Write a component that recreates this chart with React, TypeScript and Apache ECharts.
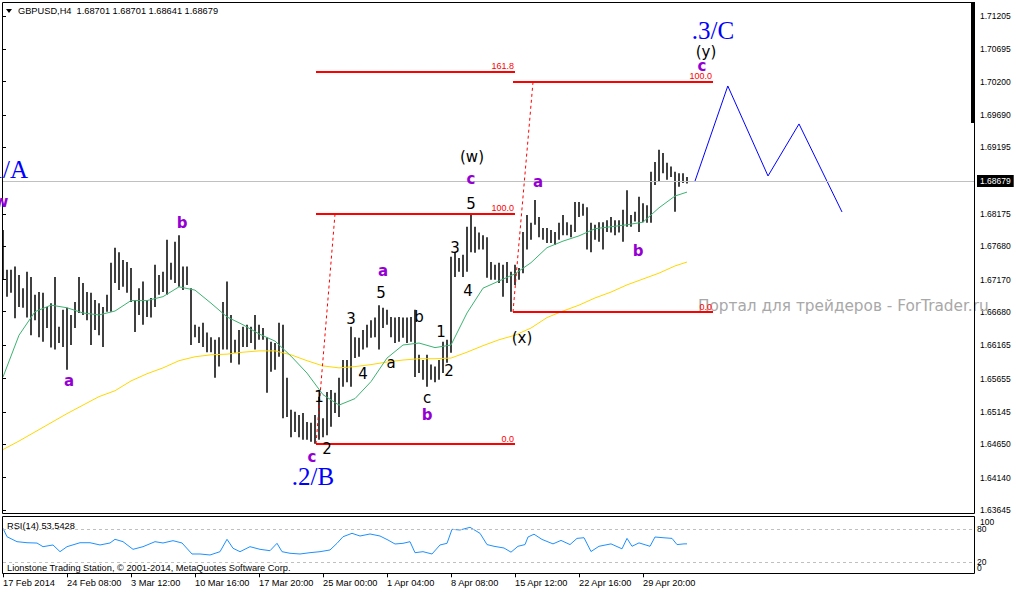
import React, { useEffect, useRef } from "react";
import * as echarts from "echarts";

// GBPUSD H4 price bars, each slot holds two consecutive H4 bars (high / low)
const barHigh = [
  1.6793, 1.6732, 1.6732, 1.6737, 1.6724, 1.6704, 1.6729, 1.6721, 1.6694, 1.6698,
  1.6697, 1.6675, 1.6681, 1.6721, 1.6645, 1.6671, 1.6674, 1.6663, 1.6683, 1.6721,
  1.6712, 1.6698, 1.6697, 1.6686, 1.6681, 1.6675, 1.6694, 1.6743, 1.6766, 1.6759,
  1.6747, 1.6744, 1.6735, 1.6686, 1.6704, 1.6714, 1.6686, 1.6689, 1.6740, 1.6724,
  1.6729, 1.6778, 1.6743, 1.6775, 1.6785, 1.6737, 1.6737, 1.6704, 1.6648, 1.6645,
  1.6651, 1.6636, 1.6629, 1.6625, 1.6629, 1.6683, 1.6714, 1.6663, 1.6625, 1.6640,
  1.6645, 1.6648, 1.6645, 1.6663, 1.6648, 1.6643, 1.6629, 1.6622, 1.6620, 1.6651,
  1.6648, 1.6567, 1.6518, 1.6515, 1.6510, 1.6513, 1.6499, 1.6498, 1.6510, 1.6538,
  1.6505, 1.6545, 1.6548, 1.6544, 1.6567, 1.6594, 1.6594, 1.6645, 1.6629, 1.6628,
  1.6640, 1.6648, 1.6655, 1.6659, 1.6678, 1.6674, 1.6671, 1.6660, 1.6659, 1.6660,
  1.6659, 1.6659, 1.6660, 1.6671, 1.6602, 1.6594, 1.6602, 1.6587, 1.6584, 1.6594,
  1.6622, 1.6625, 1.6752, 1.6758, 1.6750, 1.6755, 1.6798, 1.6817, 1.6798, 1.6789,
  1.6785, 1.6782, 1.6744, 1.6740, 1.6743, 1.6740, 1.6744, 1.6729, 1.6740, 1.6735,
  1.6790, 1.6816, 1.6804, 1.6839, 1.6813, 1.6796, 1.6796, 1.6793, 1.6790, 1.6804,
  1.6816, 1.6805, 1.6801, 1.6836, 1.6836, 1.6833, 1.6828, 1.6804, 1.6801, 1.6805,
  1.6805, 1.6808, 1.6813, 1.6808, 1.6808, 1.6824, 1.6854, 1.6816, 1.6821, 1.6844,
  1.6834, 1.6831, 1.6882, 1.6897, 1.6916, 1.6911, 1.6896, 1.6890, 1.6882, 1.6880,
  1.6880, 1.6874,
];

const barLow = [
  1.6717, 1.6691, 1.6697, 1.6658, 1.6675, 1.6674, 1.6659, 1.6632, 1.6655, 1.6629,
  1.6622, 1.6643, 1.6613, 1.6610, 1.6620, 1.6614, 1.6579, 1.6617, 1.6643, 1.6666,
  1.6663, 1.6655, 1.6617, 1.6640, 1.6632, 1.6614, 1.6668, 1.6668, 1.6712, 1.6701,
  1.6706, 1.6697, 1.6683, 1.6637, 1.6663, 1.6648, 1.6660, 1.6659, 1.6675, 1.6694,
  1.6698, 1.6694, 1.6717, 1.6712, 1.6706, 1.6701, 1.6709, 1.6617, 1.6629, 1.6620,
  1.6614, 1.6606, 1.6606, 1.6567, 1.6584, 1.6610, 1.6610, 1.6590, 1.6605, 1.6587,
  1.6614, 1.6614, 1.6620, 1.6610, 1.6625, 1.6625, 1.6544, 1.6576, 1.6579, 1.6599,
  1.6505, 1.6507, 1.6476, 1.6484, 1.6476, 1.6472, 1.6472, 1.6469, 1.6466, 1.6472,
  1.6476, 1.6479, 1.6492, 1.6513, 1.6507, 1.6553, 1.6560, 1.6553, 1.6597, 1.6599,
  1.6610, 1.6613, 1.6628, 1.6629, 1.6610, 1.6643, 1.6648, 1.6629, 1.6620, 1.6622,
  1.6628, 1.6620, 1.6622, 1.6568, 1.6574, 1.6564, 1.6553, 1.6564, 1.6560, 1.6564,
  1.6574, 1.6590, 1.6605, 1.6721, 1.6729, 1.6721, 1.6729, 1.6759, 1.6758, 1.6763,
  1.6763, 1.6720, 1.6717, 1.6717, 1.6712, 1.6691, 1.6712, 1.6668, 1.6709, 1.6717,
  1.6727, 1.6763, 1.6778, 1.6801, 1.6782, 1.6778, 1.6773, 1.6773, 1.6770, 1.6778,
  1.6785, 1.6785, 1.6782, 1.6790, 1.6813, 1.6815, 1.6763, 1.6759, 1.6778, 1.6775,
  1.6763, 1.6790, 1.6789, 1.6785, 1.6789, 1.6775, 1.6798, 1.6798, 1.6806, 1.6790,
  1.6805, 1.6804, 1.6804, 1.6862, 1.6867, 1.6880, 1.6870, 1.6874, 1.6821, 1.6859,
  1.6865, 1.6864,
];

// moving averages: [slot, price]
const maFast: [number, number][] = [
  [0, 1.6568], [4, 1.6632], [8, 1.6668], [12, 1.6678], [16, 1.6674], [20, 1.6666],
  [24, 1.6663], [28, 1.6669], [32, 1.6685], [36, 1.6685], [40, 1.6691], [44, 1.6706],
  [48, 1.6701], [52, 1.6681], [56, 1.666], [60, 1.6648], [64, 1.6634], [68, 1.6623],
  [72, 1.66], [76, 1.6574], [80, 1.6541], [84, 1.6525], [88, 1.6535], [92, 1.6561],
  [96, 1.6597], [100, 1.6617], [104, 1.662], [108, 1.6613], [112, 1.6617], [116, 1.6666],
  [120, 1.6704], [124, 1.6715], [128, 1.6726], [132, 1.6743], [136, 1.6766], [140, 1.6776],
  [144, 1.6784], [148, 1.6795], [152, 1.6798], [156, 1.6801], [160, 1.6805], [164, 1.6827],
  [168, 1.6845], [171, 1.6851],
];

const maSlow: [number, number][] = [
  [0, 1.6457], [4, 1.647], [8, 1.6484], [12, 1.6498], [16, 1.6512], [20, 1.6525],
  [24, 1.6538], [28, 1.6547], [32, 1.6562], [36, 1.6573], [40, 1.6582], [44, 1.6593],
  [48, 1.6599], [52, 1.6602], [56, 1.6603], [60, 1.6606], [64, 1.6608], [68, 1.6608],
  [72, 1.6602], [76, 1.6593], [80, 1.6585], [84, 1.6582], [88, 1.6584], [92, 1.6587],
  [96, 1.6591], [100, 1.6594], [104, 1.6596], [108, 1.6596], [112, 1.6597], [116, 1.6606],
  [120, 1.6616], [124, 1.6625], [128, 1.6632], [132, 1.6643], [136, 1.6659], [140, 1.6669],
  [144, 1.6678], [148, 1.6689], [152, 1.6698], [156, 1.6709], [160, 1.6718], [164, 1.6727],
  [168, 1.6738], [171, 1.6744],
];

// RSI(14): [slot, value]
const rsi14: [number, number][] = [
  [0, 81.8], [1, 66.5], [3.5, 57.5], [6, 55.6], [8.5, 55], [10, 48.4], [12.5, 51.5],
  [14.25, 39.3], [16, 48.4], [19.25, 55.6], [21.75, 55.6], [24.25, 51.5], [26.75, 55.1],
  [28, 61.8], [30, 57.5], [32.5, 43.6], [35, 48.4], [38, 57.5], [40, 55.1], [42.5, 59.3],
  [44.75, 55.1], [47.25, 35.1], [49.25, 35.1], [51.75, 33.3], [54.25, 39.3], [56, 61.8],
  [57.5, 45.5], [59.25, 39.3], [61.75, 48.4], [64.25, 43.6], [66.75, 41.1], [68.5, 54.5],
  [69.75, 39.3], [71.75, 36.4], [74.25, 35.1], [76.75, 37.5], [79.25, 39.3], [81.75, 42.4],
  [83.5, 54.5], [85, 66.5], [87.25, 72.7], [89.25, 67.8], [91.75, 71.5], [94.25, 67.8],
  [96.25, 60.5], [98, 53.3], [100, 54.5], [101.75, 57.5], [103, 37.5], [105, 39.3],
  [107.25, 35.1], [109.25, 51.5], [111, 54.5], [112.25, 80], [114.25, 78.7], [116.75, 83.6],
  [119.25, 72.7], [121, 52.2], [122.75, 49.1], [125.25, 46], [127, 38.4], [128.75, 49.1],
  [130.5, 52.2], [131.25, 66], [132.75, 71.1], [134.75, 61.6], [137.5, 53.5], [139.5, 59.8],
  [141.75, 52.2], [143.5, 63.5], [145.25, 64.7], [147, 39.6], [149, 49.1], [152, 53.5],
  [154.75, 44.5], [156, 63.5], [157.25, 49.1], [159, 55.3], [161.75, 49.1], [163, 66],
  [165, 64.7], [167.25, 63.5], [168.5, 52.2], [170.25, 53.5], [171, 53.54],
];

// projected wave path (blue): [slot, price]
const projection: [number, number][] = [
  [173, 1.68679], [181.2, 1.70134], [191.25, 1.68757], [199, 1.69553], [209.75, 1.68206],
];

// Fibonacci objects
const fibW = { from: 78.25, to: 128, anchorEnd: 83, base: 1.64655, top: 1.68175, levels: [0, 100, 161.8] };
const fibX = { from: 127.5, to: 177.5, anchorEnd: 132.5, base: 1.66675, top: 1.70195, levels: [0, 100] };

const lastPrice = 1.68679;
const rsiLast = 53.5428;

const priceTicks = [
  1.63645, 1.6414, 1.6465, 1.65145, 1.65655, 1.66165, 1.6668, 1.6717,
  1.6768, 1.68175, 1.69195, 1.6969, 1.702, 1.70695, 1.71205,
];
const timeLabels = [
  "17 Feb 2014", "24 Feb 08:00", "3 Mar 12:00", "10 Mar 16:00", "17 Mar 20:00",
  "25 Mar 00:00", "1 Apr 04:00", "8 Apr 08:00", "15 Apr 12:00", "22 Apr 16:00", "29 Apr 20:00",
];
const labelSlots = timeLabels.map((_, i) => i * 16);
const rsiLevels = [20, 80];
const rsiBounds = [0, 100];

// wave labels: [text, x, y]
const minorWaves: [string, number, number][] = [
  ["w", 1.5, 202], ["a", 69, 381], ["b", 182, 223], ["c", 312, 457], ["a", 383, 271],
  ["b", 427, 415], ["c", 471, 179], ["a", 538, 182], ["b", 638, 251], ["c", 702, 66],
];
const subWaves: [string, number, number][] = [
  ["1", 319, 397], ["2", 327, 449], ["3", 351, 319], ["4", 363, 374], ["5", 381, 293],
  ["a", 391, 363], ["b", 419, 317], ["c", 427, 398], ["1", 441, 332], ["2", 449, 371],
  ["3", 455, 248], ["4", 468, 291], ["5", 471, 204], ["(w)", 472, 157], ["(x)", 522, 338],
  ["(y)", 706, 52],
];
const majorWaves: [string, number, number, string][] = [
  [".1/A", 28, 169, "right"], [".2/B", 313, 476, "center"], [".3/C", 713, 30, "center"],
];

const UI_FONT = "Liberation Sans";

function fibLines(f: typeof fibW) {
  const span = f.top - f.base;
  const lines: any[] = f.levels.map((lv) => {
    const p = f.base + (span * lv) / 100;
    return [
      { coord: [f.from, p], label: { formatter: lv.toFixed(1) } },
      { coord: [f.to, p] },
    ];
  });
  lines.push([
    {
      coord: [f.from, f.base],
      lineStyle: { type: [3, 3], width: 1, color: "#ff0000" },
      label: { show: false },
    },
    { coord: [f.anchorEnd, f.top] },
  ]);
  return lines;
}

export default function App() {
  const ref = useRef<HTMLDivElement>(null);

  useEffect(() => {
    if (!ref.current) return;
    const chart = echarts.init(ref.current, undefined, { renderer: "svg" });

    const textEl = (text: string, x: number, y: number, font: string, fill: string, align = "center") => ({
      type: "text",
      x,
      y,
      z: 100,
      style: { text, font, fill, align, verticalAlign: "middle" },
    });

    const graphics: any[] = [
      {
        type: "rect",
        z: 50,
        shape: { x: 2.5, y: 2.5, width: 972, height: 511 },
        style: { fill: "none", stroke: "#000", lineWidth: 1 },
      },
      {
        type: "rect",
        z: 50,
        shape: { x: 2.5, y: 516.5, width: 972, height: 57 },
        style: { fill: "none", stroke: "#000", lineWidth: 1 },
      },
      { type: "rect", z: 50, shape: { x: 971, y: 2, width: 4, height: 121 }, style: { fill: "#000" } },
      { type: "polygon", z: 50, shape: { points: [[6, 9], [12, 9], [9, 13]] }, style: { fill: "#000" } },
      textEl("GBPUSD,H4  1.68701 1.68701 1.68641 1.68679", 18, 11, `9.25px "${UI_FONT}"`, "#000", "left"),
      textEl(`RSI(14) ${rsiLast}`, 7, 526, `9.25px "${UI_FONT}"`, "#000", "left"),
      textEl(
        "Lionstone Trading Station, © 2001-2014, MetaQuotes Software Corp.",
        7,
        567.5,
        `9.25px "${UI_FONT}"`,
        "#000",
        "left"
      ),
      {
        type: "text",
        x: 698,
        y: 306,
        z: 1,
        style: {
          text: "Портал для трейдеров - ForTrader.ru",
          font: '15.3px "DejaVu Sans"',
          fill: "#a8a8a8",
          align: "left",
          verticalAlign: "middle",
        },
      },
      ...minorWaves.map(([t, x, y]) => textEl(t, x, y, 'bold 15px "DejaVu Sans"', "#9400d3")),
      ...subWaves.map(([t, x, y]) => textEl(t, x, y, '15px "DejaVu Sans"', "#000")),
      ...majorWaves.map(([t, x, y, a]) => textEl(t, x, y, '25px "Liberation Serif"', "#0000ff", a)),
    ];

    const option: any = {
      animation: false,
      backgroundColor: "#ffffff",
      textStyle: { fontFamily: UI_FONT },
      grid: [
        { left: 3, width: 972, top: 16, height: 494, containLabel: false, outerBoundsMode: "none" },
        { left: 3, width: 972, top: 518.3, height: 55, containLabel: false, outerBoundsMode: "none" },
      ],
      xAxis: [
        { type: "value", gridIndex: 0, min: 0, max: 243, show: false, splitLine: { show: false } },
        {
          type: "value",
          gridIndex: 1,
          min: 0,
          max: 243,
          axisLine: { show: false },
          splitLine: { show: false },
          axisTick: { show: true, length: 4, customValues: labelSlots, lineStyle: { color: "#000" } },
          axisLabel: {
            customValues: labelSlots,
            formatter: (v: number) => timeLabels[Math.round(v / 16)] ?? "",
            align: "left",
            fontSize: 9.25,
            color: "#000",
            margin: 5,
          },
        },
      ],
      yAxis: [
        {
          type: "value",
          gridIndex: 0,
          position: "right",
          min: 1.63645,
          max: 1.71205,
          axisLine: { show: false },
          splitLine: { show: false },
          axisTick: { show: true, length: 3, customValues: priceTicks, lineStyle: { color: "#000" } },
          axisLabel: {
            customValues: priceTicks,
            formatter: (v: number) => v.toFixed(5),
            fontSize: 8.5,
            color: "#000",
            margin: 5,
          },
        },
        {
          // RSI levels 20 / 80
          type: "value",
          gridIndex: 1,
          position: "right",
          min: 0,
          max: 100,
          axisLine: { show: false },
          splitLine: { show: false },
          axisTick: { show: true, length: 3, customValues: rsiLevels, lineStyle: { color: "#000" } },
          axisLabel: {
            customValues: rsiLevels,
            formatter: (v: number) => String(v),
            fontSize: 8.5,
            color: "#000",
            margin: 2,
          },
        },
        {
          // RSI scale bounds 0 / 100
          type: "value",
          gridIndex: 1,
          position: "right",
          min: 0,
          max: 100,
          axisLine: { show: false },
          splitLine: { show: false },
          axisTick: { show: false },
          axisLabel: {
            customValues: rsiBounds,
            formatter: (v: number) => (v === 100 ? "{hi|100}" : "{lo|0}"),
            fontSize: 8.5,
            color: "#000",
            margin: 2,
            rich: {
              hi: { fontSize: 8.5, padding: [8, 0, 0, 3] },
              lo: { fontSize: 8.5, padding: [0, 0, 11, 0] },
            },
          },
        },
      ],
      series: [
        {
          type: "custom",
          name: "GBPUSD",
          xAxisIndex: 0,
          yAxisIndex: 0,
          data: barHigh.map((h, i) => [i, barLow[i], h]),
          encode: { x: 0, y: [1, 2] },
          z: 2,
          renderItem: (_params: any, api: any) => {
            const hi = api.coord([api.value(0), api.value(2)]);
            const lo = api.coord([api.value(0), api.value(1)]);
            return {
              type: "rect",
              shape: { x: Math.round(hi[0]) - 0.75, y: hi[1], width: 1.5, height: Math.max(1, lo[1] - hi[1]) },
              style: { fill: "#000" },
            };
          },
        },
        {
          type: "line",
          name: "Last price",
          xAxisIndex: 0,
          yAxisIndex: 0,
          data: [],
          z: 1,
          markLine: {
            silent: true,
            symbol: "none",
            precision: 5,
            lineStyle: { color: "#c0c0c0", type: "solid", width: 1 },
            label: {
              show: true,
              position: "end",
              distance: 2,
              formatter: lastPrice.toFixed(5),
              backgroundColor: "#000",
              color: "#fff",
              fontSize: 8.5,
              padding: [2, 3, 1, 3],
            },
            data: [{ yAxis: lastPrice }],
          },
        },
        {
          type: "line",
          name: "MA slow",
          xAxisIndex: 0,
          yAxisIndex: 0,
          data: maSlow,
          symbol: "none",
          z: 3,
          lineStyle: { color: "#ffd700", width: 1 },
        },
        {
          type: "line",
          name: "MA fast",
          xAxisIndex: 0,
          yAxisIndex: 0,
          data: maFast,
          symbol: "none",
          z: 3,
          lineStyle: { color: "#3cb371", width: 1 },
        },
        {
          type: "line",
          name: "Projection",
          xAxisIndex: 0,
          yAxisIndex: 0,
          data: projection,
          symbol: "none",
          z: 4,
          lineStyle: { color: "#0000ff", width: 1 },
        },
        {
          type: "line",
          name: "Fibo",
          xAxisIndex: 0,
          yAxisIndex: 0,
          data: [],
          z: 5,
          markLine: {
            silent: true,
            symbol: "none",
            precision: 5,
            lineStyle: { color: "#ff0000", type: "solid", width: 2 },
            label: {
              show: true,
              position: "insideEndTop",
              distance: 1,
              color: "#ff0000",
              fontSize: 9,
            },
            data: [...fibLines(fibW), ...fibLines(fibX)],
          },
        },
        {
          type: "line",
          name: "RSI",
          xAxisIndex: 1,
          yAxisIndex: 1,
          data: rsi14,
          symbol: "none",
          z: 3,
          lineStyle: { color: "#1e90ff", width: 1 },
          markLine: {
            silent: true,
            symbol: "none",
            label: { show: false },
            lineStyle: { color: "#c0c0c0", type: [3, 3], width: 1 },
            data: [{ yAxis: 80 }, { yAxis: 20 }],
          },
        },
      ],
      graphic: graphics,
    };

    chart.setOption(option);
    return () => chart.dispose();
  }, []);

  return (
    <div
      ref={ref}
      style={{ position: "absolute", left: 0, top: 0, width: 1016, height: 592, background: "#fff" }}
    />
  );
}
